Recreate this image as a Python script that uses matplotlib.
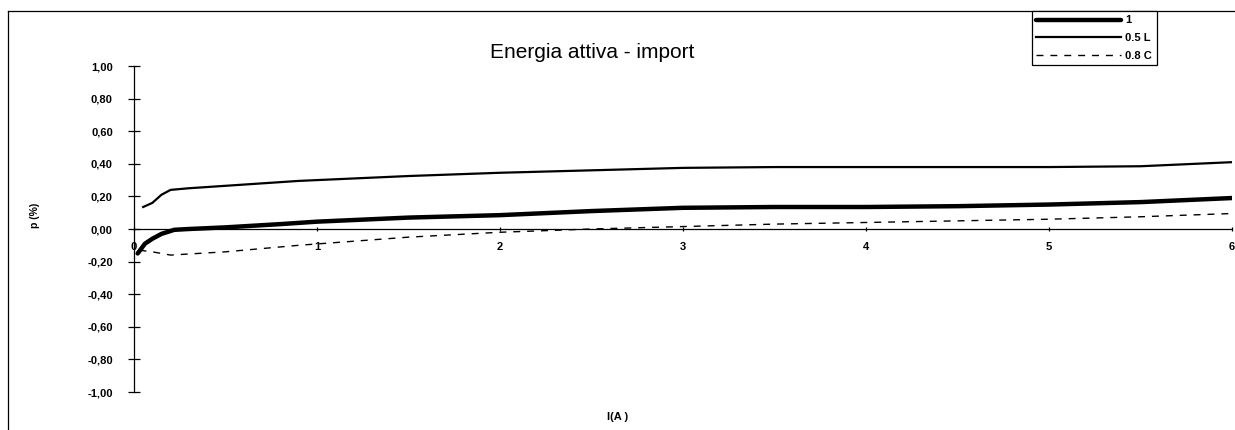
import matplotlib
matplotlib.use("Agg")
import matplotlib.pyplot as plt
from matplotlib.lines import Line2D

plt.rcParams['font.family'] = ['Liberation Sans', 'DejaVu Sans']

# Data
x_pf1 = [0.02, 0.06, 0.10, 0.15, 0.22, 0.30, 0.50, 0.80, 1.00, 1.50, 2.00, 2.50, 3.00, 3.50, 4.00, 4.50, 5.00, 5.50, 6.00]
y_pf1 = [-0.15, -0.09, -0.06, -0.03, -0.005, 0.00, 0.01, 0.03, 0.045, 0.07, 0.085, 0.11, 0.13, 0.135, 0.135, 0.14, 0.15, 0.165, 0.19]

x_pf05L = [0.05, 0.10, 0.15, 0.20, 0.30, 0.50, 0.90, 1.50, 2.00, 2.50, 3.00, 3.50, 4.00, 4.50, 5.00, 5.50, 6.00]
y_pf05L = [0.135, 0.16, 0.21, 0.24, 0.25, 0.265, 0.295, 0.325, 0.345, 0.36, 0.375, 0.38, 0.38, 0.38, 0.38, 0.385, 0.41]

x_pf08C = [0.03, 0.10, 0.20, 0.50, 0.90, 1.50, 2.00, 2.50, 3.00, 3.50, 4.00, 4.50, 5.00, 5.50, 6.00]
y_pf08C = [-0.13, -0.14, -0.16, -0.14, -0.10, -0.05, -0.02, 0.0, 0.015, 0.03, 0.04, 0.05, 0.06, 0.075, 0.095]

series_labels = ["1", "0.5 L", "0.8 C"]
x_ticks = [0, 1, 2, 3, 4, 5, 6]
x_tick_labels = ["0", "1", "2", "3", "4", "5", "6"]
y_ticks = [1.0, 0.8, 0.6, 0.4, 0.2, 0.0, -0.2, -0.4, -0.6, -0.8, -1.0]
y_tick_labels = ["1,00", "0,80", "0,60", "0,40", "0,20", "0,00", "-0,20", "-0,40", "-0,60", "-0,80", "-1,00"]

W, H = 1235, 430
fig = plt.figure(figsize=(W / 100, H / 100), dpi=100)
ax = fig.add_axes([134 / W, 1 - 392 / H, (1232 - 134) / W, (392 - 66) / H])

ax.plot(x_pf1, y_pf1, color='black', lw=3.2, solid_capstyle='round', label=series_labels[0])
ax.plot(x_pf05L, y_pf05L, color='black', lw=1.6, label=series_labels[1])
ax.plot(x_pf08C, y_pf08C, color='black', lw=1.0, linestyle=(0, (5, 5)), label=series_labels[2])

ax.set_xlim(0, 6)
ax.set_ylim(-1, 1)
for s in ['top', 'right']:
    ax.spines[s].set_visible(False)
ax.spines['bottom'].set_position(('data', 0))
ax.spines['bottom'].set_linewidth(0.9)
ax.spines['left'].set_linewidth(0.9)

ax.set_yticks(y_ticks)
ax.set_yticklabels(y_tick_labels)
ax.set_xticks(x_ticks)
ax.set_xticklabels(x_tick_labels)
ax.tick_params(axis='y', direction='inout', length=8.5, width=0.9, pad=11,
               labelsize=8)
ax.tick_params(axis='x', direction='inout', length=3, width=0.9, pad=8,
               labelsize=8)
for lab in ax.get_xticklabels() + ax.get_yticklabels():
    lab.set_fontweight('bold')

fig.text(592 / W, 1 - 52 / H, "Energia attiva - import", ha='center', va='center', fontsize=15)
fig.text(618 / W, 1 - 417 / H, "I(A )", ha='center', va='center', fontsize=8, fontweight='bold')
fig.text(35 / W, 1 - 215 / H, "p (%)", ha='center', va='center', fontsize=7.5, fontweight='bold', rotation=90)

# outer frame (left and top edges visible)
fig.add_artist(Line2D([8 / W, 8 / W], [0, 1 - 11 / H], transform=fig.transFigure, color='black', lw=0.9))
fig.add_artist(Line2D([8 / W, 1], [1 - 11 / H, 1 - 11 / H], transform=fig.transFigure, color='black', lw=0.9))

leg = fig.legend(loc='upper left', bbox_to_anchor=(1032 / W, 1 - 11 / H),
                 frameon=True, fancybox=False, edgecolor='black', framealpha=1,
                 handlelength=7.6, handletextpad=0.4, labelspacing=0.68,
                 borderpad=0.4, borderaxespad=0, prop={'weight': 'bold', 'size': 8})
leg.get_frame().set_linewidth(0.9)

fig.savefig("out.png", dpi=100)
